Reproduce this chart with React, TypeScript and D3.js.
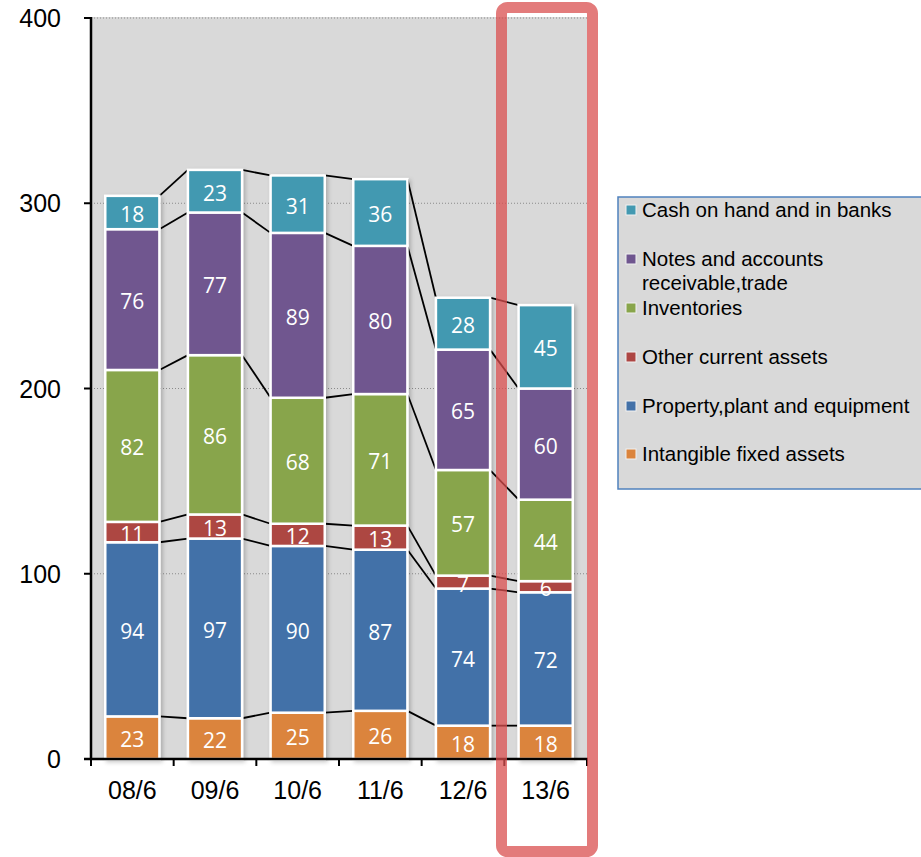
import React from "react";
import * as d3 from "d3";

const categories = ["08/6", "09/6", "10/6", "11/6", "12/6", "13/6"];
const intangible = [23, 22, 25, 26, 18, 18];
const ppe = [94, 97, 90, 87, 74, 72];
const otherCurrent = [11, 13, 12, 13, 7, 6];
const inventories = [82, 86, 68, 71, 57, 44];
const notes = [76, 77, 89, 80, 65, 60];
const cash = [18, 23, 31, 36, 28, 45];
const yTicks = [0, 100, 200, 300, 400];

const seriesKeys = ["intangible", "ppe", "other", "inventories", "notes", "cash"];
const seriesValues: Record<string, number[]> = {
  intangible,
  ppe,
  other: otherCurrent,
  inventories,
  notes,
  cash,
};
const seriesColors: Record<string, string> = {
  intangible: "#db843d",
  ppe: "#4371a8",
  other: "#ad4643",
  inventories: "#88a54b",
  notes: "#6f568f",
  cash: "#4399b1",
};
const legendItems = [
  { key: "cash", lines: ["Cash on hand and in banks"] },
  { key: "notes", lines: ["Notes and accounts", "receivable,trade"] },
  { key: "inventories", lines: ["Inventories"] },
  { key: "other", lines: ["Other current assets"] },
  { key: "ppe", lines: ["Property,plant and equipment"] },
  { key: "intangible", lines: ["Intangible fixed assets"] },
];
const legendBaselines = [217, 266, 315, 364, 413, 461];

export default function App() {
  const W = 921;
  const H = 857;
  const left = 91;
  const right = 587;
  const top = 18;
  const bottom = 759;

  const table = categories.map((c, i) => {
    const row: any = { cat: c };
    seriesKeys.forEach((k) => (row[k] = seriesValues[k][i]));
    return row;
  });
  const stacked = d3.stack<any>().keys(seriesKeys)(table);

  const x = d3
    .scaleBand<string>()
    .domain(categories)
    .range([left, right])
    .paddingInner(0.345)
    .paddingOuter(0.1725);
  const y = d3.scaleLinear().domain([0, 400]).range([bottom, top]);
  const bw = x.bandwidth();
  const step = x.step();

  const catBoundaries = d3.range(categories.length + 1).map((i) => left + i * step);

  return (
    <svg
      width={W}
      height={H}
      style={{ position: "absolute", left: 0, top: 0, display: "block" }}
      fontFamily="'Liberation Sans', Arial, sans-serif"
    >
      <defs>
        <filter id="shadow" x="-20%" y="-20%" width="140%" height="140%">
          <feDropShadow dx="2" dy="2" stdDeviation="2" floodColor="#000" floodOpacity="0.22" />
        </filter>
      </defs>
      <rect x={0} y={0} width={W} height={H} fill="#fff" />
      {/* plot area */}
      <rect x={left} y={top - 1} width={right - left} height={bottom - top + 1} fill="#d9d9d9" />
      {/* gridlines */}
      {yTicks
        .filter((t) => t > 0)
        .map((t) => (
          <line
            key={"g" + t}
            x1={left}
            x2={right}
            y1={y(t)}
            y2={y(t)}
            stroke="#8a8a8a"
            strokeWidth={1}
            strokeDasharray="1,2"
          />
        ))}
      {/* series lines */}
      {stacked.map((s) =>
        d3.range(categories.length - 1).map((i) => {
          const x1 = (x(categories[i]) as number) + bw;
          const x2 = x(categories[i + 1]) as number;
          return (
            <line
              key={s.key + "l" + i}
              x1={x1}
              x2={x2}
              y1={y(s[i][1])}
              y2={y(s[i + 1][1])}
              stroke="#000"
              strokeWidth={1.8}
            />
          );
        })
      )}
      {/* bars */}
      <g filter="url(#shadow)">
        {stacked.map((s) =>
          s.map((d, i) => (
            <rect
              key={s.key + i}
              x={x(categories[i])}
              y={y(d[1])}
              width={bw}
              height={y(d[0]) - y(d[1])}
              fill={seriesColors[s.key]}
              stroke="#fff"
              strokeWidth={2.5}
            />
          ))
        )}
      </g>
      {/* data labels */}
      {stacked.map((s) =>
        s.map((d, i) => (
          <text
            key={s.key + "t" + i}
            x={(x(categories[i]) as number) + bw / 2}
            y={(y(d[0]) + y(d[1])) / 2 + 9.5}
            textAnchor="middle"
            fill="#fff"
            fontSize={21}
            fontFamily="'Open Sans', sans-serif"
          >
            {d[1] - d[0]}
          </text>
        ))
      )}
      {/* y axis */}
      <line x1={left} x2={left} y1={top - 1} y2={bottom + 1} stroke="#000" strokeWidth={2.5} />
      {yTicks.map((t) => (
        <g key={"yt" + t}>
          <line x1={left - 7} x2={left} y1={y(t)} y2={y(t)} stroke="#000" strokeWidth={2} />
          <text x={61} y={y(t) + 9} textAnchor="end" fontSize={25} fill="#000">
            {t}
          </text>
        </g>
      ))}
      {/* x axis */}
      <line x1={left - 7} x2={right + 1} y1={bottom} y2={bottom} stroke="#000" strokeWidth={2.5} />
      {catBoundaries.map((bx, i) => (
        <line key={"xt" + i} x1={bx} x2={bx} y1={bottom} y2={bottom + 7} stroke="#000" strokeWidth={2} />
      ))}
      {categories.map((c) => (
        <text
          key={"xl" + c}
          x={(x(c) as number) + bw / 2}
          y={799}
          textAnchor="middle"
          fontSize={25}
          fill="#000"
        >
          {c}
        </text>
      ))}
      {/* legend */}
      <rect x={618} y={197} width={320} height={292} fill="#d9d9d9" stroke="#4f81bd" strokeWidth={1.5} />
      {legendItems.map((item, i) => (
        <g key={"lg" + item.key}>
          <rect
            x={626}
            y={legendBaselines[i] - 12}
            width={10}
            height={10}
            fill={seriesColors[item.key]}
            stroke="#f2f2f2"
            strokeWidth={1}
          />
          {item.lines.map((ln, j) => (
            <text key={j} x={642} y={legendBaselines[i] + j * 24} fontSize={20.5} fill="#000">
              {ln}
            </text>
          ))}
        </g>
      ))}
      {/* highlight rectangle */}
      <rect
        x={501.5}
        y={7.5}
        width={91}
        height={844}
        rx={6}
        fill="none"
        stroke="#d94f4f"
        strokeOpacity={0.75}
        strokeWidth={11}
      />
    </svg>
  );
}
